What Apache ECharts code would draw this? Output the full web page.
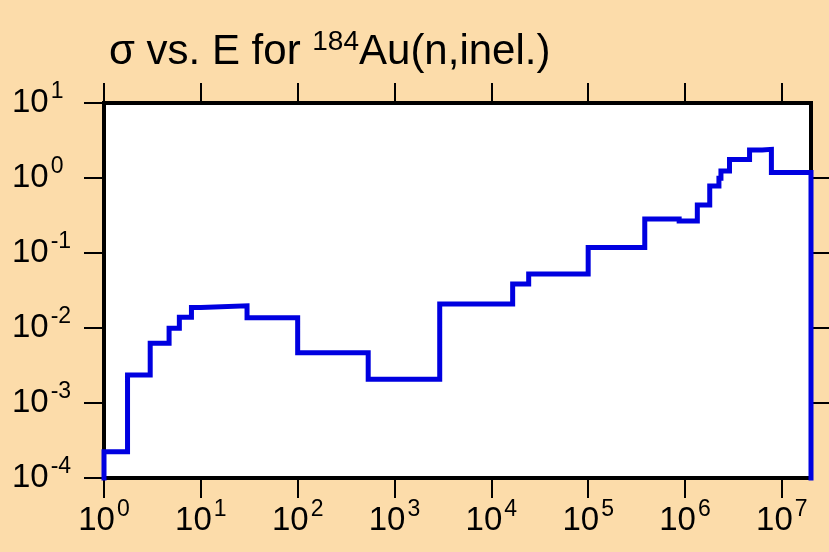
<!DOCTYPE html>
<html>
<head>
<meta charset="utf-8">
<script src="https://cdn.jsdelivr.net/npm/echarts@6/dist/echarts.min.js"></script>
<style>
  html, body { margin: 0; padding: 0; background: #fcdcaa; }
  #chart { width: 829px; height: 552px; }
</style>
</head>
<body>
<div id="chart"></div>
<script>
// Lower bin edges (eV) of the group-wise inelastic cross section
const energyEdges = [1, 1.75, 3, 4.7, 6, 8, 10, 30, 100, 535, 2930, 1.66e4, 2.43e4,
  1.0e5, 3.84e5, 8.7e5, 1.34e6, 1.8e6, 2.24e6, 2.35e6, 2.88e6, 4.64e6, 6.27e6, 7.8e6];
const energyMax = 2e7;
// Cross section (b) in each bin
const sigmaValues = [2.24e-4, 2.36e-3, 6.25e-3, 9.9e-3, 0.0139, 0.0187, 0.0198, 0.0137,
  4.69e-3, 2.07e-3, 0.0209, 0.0386, 0.0525, 0.118, 0.284, 0.267, 0.436, 0.782,
  0.99, 1.24, 1.77, 2.36, 2.41, 1.18];
const sigmaFloor = 1e-4;
const sigmaCeil = 10;
// Decade tick positions
const xDecades = [1, 10, 100, 1e3, 1e4, 1e5, 1e6, 1e7];
const yDecades = [1e-4, 1e-3, 1e-2, 1e-1, 1, 10];
const yDecadesRight = [1e-3, 1e-2, 1e-1, 1];

const FONT = "'Liberation Sans', Arial, Helvetica, sans-serif";

// Histogram outline: rise from the floor, step through each bin, drop at the end
const points = [[energyEdges[0], sigmaFloor]];
energyEdges.forEach((e, i) => points.push([e, sigmaValues[i]]));
points.push([energyMax, sigmaValues[sigmaValues.length - 1]]);
points.push([energyMax, sigmaFloor]);

function powLabel(v) {
  const ex = Math.round(Math.log10(v));
  return '{b|10}{s|' + ex + '}';
}
const labelRich = {
  b: { fontFamily: FONT, fontSize: 33, lineHeight: 33, color: '#000', verticalAlign: 'bottom' },
  s: { fontFamily: FONT, fontSize: 23, lineHeight: 23, color: '#000', verticalAlign: 'bottom', padding: [0, 0, 16, 2] }
};
const tickStyle = { color: '#000', width: 2 };

const chart = echarts.init(document.getElementById('chart'));
chart.setOption({
  backgroundColor: '#fcdcaa',
  animation: false,
  title: {
    text: '{a|σ vs. E for }{s|184}{a|Au(n,inel.)}',
    left: 104,
    top: 26,
    textStyle: {
      fontWeight: 'normal',
      rich: {
        a: { fontFamily: FONT, fontSize: 42, lineHeight: 42, fontWeight: 'normal', color: '#000', verticalAlign: 'bottom' },
        s: { fontFamily: FONT, fontSize: 28, lineHeight: 28, fontWeight: 'normal', color: '#000', verticalAlign: 'bottom', padding: [0, 0, 17, 0] }
      }
    }
  },
  grid: {
    left: 104, right: 18, top: 103, bottom: 74,
    show: true,
    backgroundColor: '#ffffff',
    borderColor: '#000000',
    borderWidth: 4
  },
  xAxis: [
    {
      type: 'log', logBase: 10, min: 1, max: energyMax, position: 'bottom',
      axisLine: { show: false },
      splitLine: { show: false },
      axisTick: { show: true, length: 20, lineStyle: tickStyle, customValues: xDecades },
      axisLabel: {
        show: true, margin: 26, customValues: xDecades,
        formatter: powLabel, rich: labelRich
      }
    },
    {
      type: 'log', logBase: 10, min: 1, max: energyMax, position: 'top',
      axisLine: { show: false },
      splitLine: { show: false },
      axisTick: { show: true, length: 20, lineStyle: tickStyle, customValues: xDecades },
      axisLabel: { show: false }
    }
  ],
  yAxis: [
    {
      type: 'log', logBase: 10, min: sigmaFloor, max: sigmaCeil, position: 'left',
      axisLine: { show: false },
      splitLine: { show: false },
      axisTick: { show: true, length: 20, lineStyle: tickStyle, customValues: yDecades },
      axisLabel: {
        show: true, margin: 92, align: 'left', customValues: yDecades,
        formatter: powLabel, rich: labelRich
      }
    },
    {
      type: 'log', logBase: 10, min: sigmaFloor, max: sigmaCeil, position: 'right',
      axisLine: { show: false },
      splitLine: { show: false },
      axisTick: { show: true, length: 20, lineStyle: tickStyle, customValues: yDecadesRight },
      axisLabel: { show: false }
    }
  ],
  series: [{
    type: 'line',
    xAxisIndex: 0,
    yAxisIndex: 0,
    step: 'end',
    showSymbol: false,
    symbol: 'none',
    clip: false,
    lineStyle: { color: '#0000e0', width: 5, cap: 'square', join: 'miter' },
    data: points
  }]
});
</script>
</body>
</html>
